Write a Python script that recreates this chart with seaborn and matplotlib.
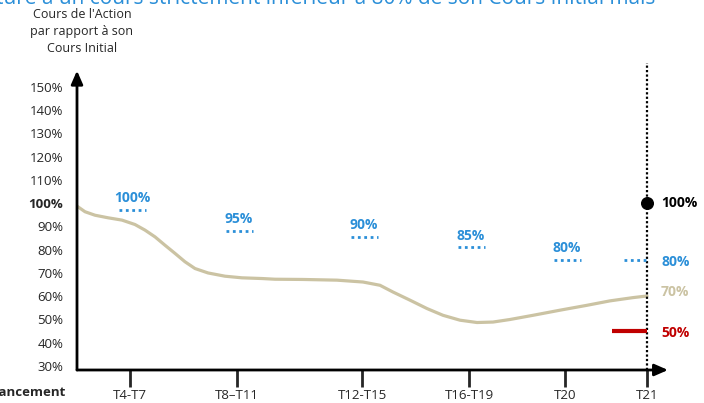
import matplotlib
matplotlib.use("Agg")
import matplotlib.pyplot as plt
import pandas as pd
import seaborn as sns

# observation dates (x ticks) and their position along the axis
periods = ["T4-T7", "T8\u2013T11", "T12-T15", "T16-T19", "T20", "T21"]
period_x = [53, 160, 285, 392, 488, 570]

# share price path (% of initial price)
path_x = [0, 8, 18, 31, 45, 58, 68, 78, 88, 98, 108, 118, 131, 148, 165, 185,
          198, 226, 260, 286, 303, 316, 333, 350, 366, 383, 400, 416, 433,
          456, 483, 510, 533, 556, 570]
path_y = [98.7, 96.3, 94.8, 93.7, 92.7, 90.8, 88.4, 85.5, 81.9, 78.4, 74.8,
          71.9, 70.0, 68.6, 67.9, 67.6, 67.3, 67.2, 66.9, 66.1, 64.7, 61.8,
          58.3, 54.7, 51.8, 49.7, 48.7, 48.9, 50.0, 51.8, 54.0, 56.1, 58.0,
          59.4, 60.1]

# autocall barriers: label and drawn level at each observation
barrier_labels = ["100%", "95%", "90%", "85%", "80%"]
barrier_levels = [97, 88, 85.4, 81, 75.5]

# y ticks
yticks = [30, 40, 50, 60, 70, 80, 90, 100, 110, 120, 130, 140, 150]

BLUE = "#2b8fd8"
BEIGE = "#cbc3a3"
RED = "#c00000"

sns.set_style("white")
plt.rcParams["font.family"] = ["Open Sans", "DejaVu Sans"]

W, H = 704, 403
fig = plt.figure(figsize=(W / 100, H / 100), dpi=100)
ax = fig.add_axes([77 / W, 1 - 370 / H, (668 - 77) / W, (370 - 63) / H])
ax.set_xlim(0, 591)
ax.set_ylim(28.3, 160.2)
for s in ax.spines.values():
    s.set_visible(False)

# axes drawn as arrows
arrow = dict(arrowstyle="-|>,head_width=0.35,head_length=0.8",
             lw=2, color="black", shrinkA=0, shrinkB=0)
ax.annotate("", xy=(0, 0.975), xytext=(0, 0), xycoords="axes fraction",
            arrowprops=arrow, annotation_clip=False)
ax.annotate("", xy=(1.0, 0), xytext=(0, 0), xycoords="axes fraction",
            arrowprops=arrow, annotation_clip=False)

# share price path
df = pd.DataFrame({"x": path_x, "y": path_y})
sns.lineplot(data=df, x="x", y="y", ax=ax, color=BEIGE, lw=2.3,
             solid_capstyle="round", solid_joinstyle="round", sort=False)

# barriers (dotted blue)
for i, (lab, lvl) in enumerate(zip(barrier_labels, barrier_levels)):
    cx = period_x[i] + 2
    ax.hlines(lvl, cx - 13, cx + 14, colors=BLUE, linestyles=(0, (1, 1.3)), lw=2)
    ax.text(cx, lvl + 2.0, lab, color=BLUE, fontsize=10, fontweight="bold",
            ha="center", va="bottom")

# final observation
xf = period_x[-1]
ax.vlines(xf, 28.3, 160.2, colors="black", linestyles=(0, (1, 1)), lw=1.6)
ax.hlines(barrier_levels[-1], xf - 23, xf, colors=BLUE, linestyles=(0, (1, 1.3)), lw=2)
ax.scatter([xf], [100], s=70, color="black", zorder=5)
ax.hlines(45, xf - 35, xf, colors=RED, lw=3)
ax.text(xf + 14, 100, "100%", fontsize=10, fontweight="bold", color="black", va="center")
ax.text(xf + 14, 74.6, "80%", fontsize=10, fontweight="bold", color=BLUE, va="center")
ax.text(xf + 14, 61.7, "70%", fontsize=10, fontweight="bold", color=BEIGE, va="center")
ax.text(xf + 14, 44, "50%", fontsize=10, fontweight="bold", color=RED, va="center")

# ticks
ax.set_yticks(yticks)
ax.set_yticklabels([f"{v}%" for v in yticks])
for t in ax.get_yticklabels():
    if t.get_text() == "100%":
        t.set_fontweight("bold")
ax.tick_params(axis="y", length=0, pad=10, labelsize=9.5)
ax.set_xticks(period_x)
ax.set_xticklabels(periods)
ax.tick_params(axis="x", length=12, width=2, direction="out", pad=2,
               labelsize=9.5, bottom=True)
ax.set_xlabel("")
ax.set_ylabel("")

# axis titles
fig.text(82 / W, 1 - 31 / H, "Cours de l'Action\npar rapport à son\nCours Initial",
         ha="center", va="center", fontsize=9, linespacing=1.4)
fig.text(66 / W, 1 - 392 / H, "Lancement", ha="right", va="center",
         fontsize=9.5, fontweight="bold")

# clipped heading at top
fig.text(-4 / W, 1 - 4 / H, "ture à un cours strictement inférieur à 80% de son Cours Initial mais",
         ha="left", va="baseline", fontsize=15, color=BLUE)

fig.savefig("out.png", dpi=100)
